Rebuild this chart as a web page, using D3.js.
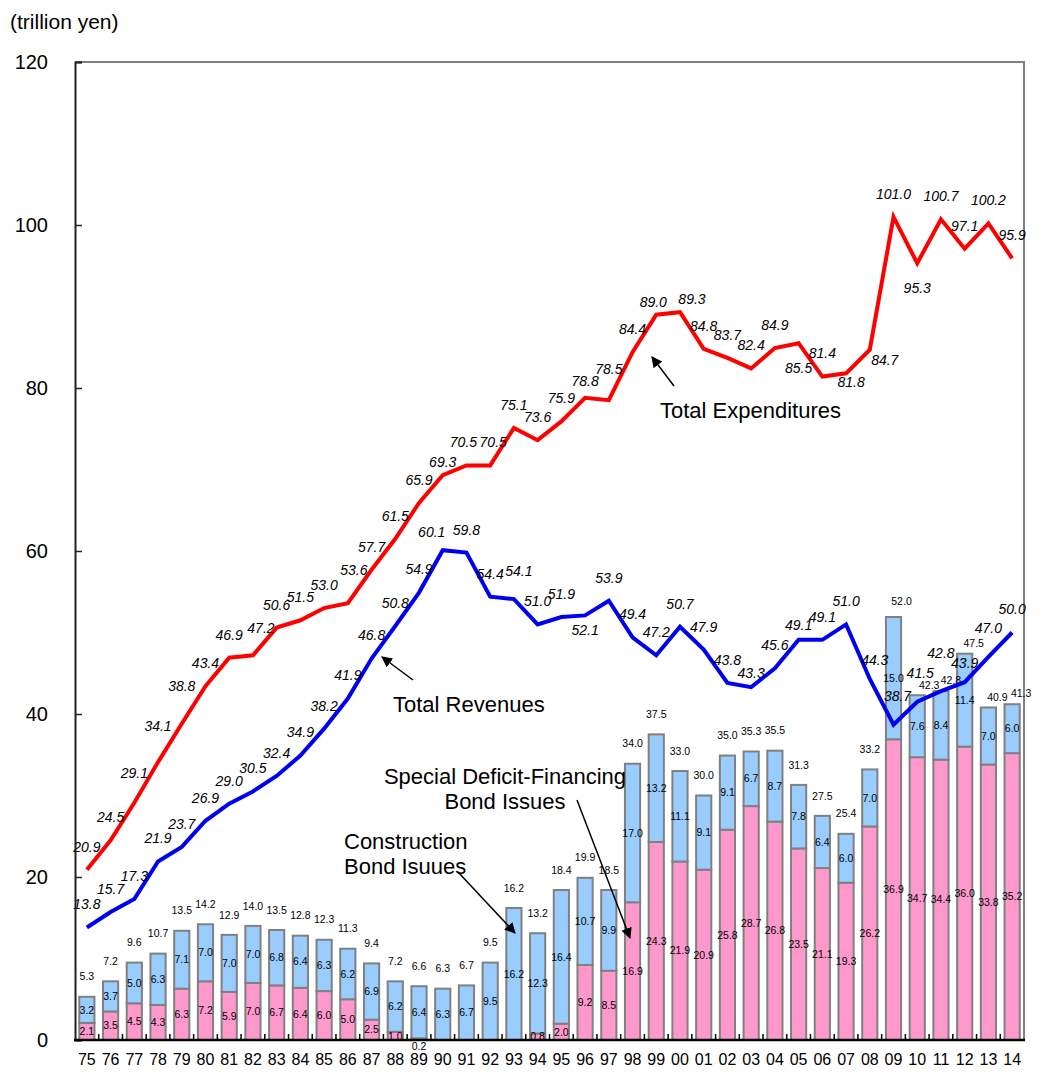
<!DOCTYPE html>
<html>
<head>
<meta charset="utf-8">
<script src="https://cdn.jsdelivr.net/npm/d3@7"></script>
<style>
  html, body { margin: 0; padding: 0; background: #fff; }
  svg { display: block; font-family: "Liberation Sans", Arial, sans-serif; }
</style>
</head>
<body>
<svg id="chart" width="1046" height="1075"></svg>
<script>
// ---------------- data ----------------
const years = ["75","76","77","78","79","80","81","82","83","84","85","86","87","88","89","90","91","92","93","94",
               "95","96","97","98","99","00","01","02","03","04","05","06","07","08","09","10","11","12","13","14"];
const expenditures = [20.9,24.5,29.1,34.1,38.8,43.4,46.9,47.2,50.6,51.5,53.0,53.6,57.7,61.5,65.9,69.3,70.5,70.5,75.1,73.6,
                      75.9,78.8,78.5,84.4,89.0,89.3,84.8,83.7,82.4,84.9,85.5,81.4,81.8,84.7,101.0,95.3,100.7,97.1,100.2,95.9];
const revenues = [13.8,15.7,17.3,21.9,23.7,26.9,29.0,30.5,32.4,34.9,38.2,41.9,46.8,50.8,54.9,60.1,59.8,54.4,54.1,51.0,
                  51.9,52.1,53.9,49.4,47.2,50.7,47.9,43.8,43.3,45.6,49.1,49.1,51.0,44.3,38.7,41.5,42.8,43.9,47.0,50.0];
const deficitBonds = [2.1,3.5,4.5,4.3,6.3,7.2,5.9,7.0,6.7,6.4,6.0,5.0,2.5,1.0,0.2,0,0,0,0,0.8,
                      2.0,9.2,8.5,16.9,24.3,21.9,20.9,25.8,28.7,26.8,23.5,21.1,19.3,26.2,36.9,34.7,34.4,36.0,33.8,35.2];
const constructionBonds = [3.2,3.7,5.0,6.3,7.1,7.0,7.0,7.0,6.8,6.4,6.3,6.2,6.9,6.2,6.4,6.3,6.7,9.5,16.2,12.3,
                           16.4,10.7,9.9,17.0,13.2,11.1,9.1,9.1,6.7,8.7,7.8,6.4,6.0,7.0,15.0,7.6,8.4,11.4,7.0,6.0];
const bondTotals = [5.3,7.2,9.6,10.7,13.5,14.2,12.9,14.0,13.5,12.8,12.3,11.3,9.4,7.2,6.6,6.3,6.7,9.5,16.2,13.2,
                    18.4,19.9,18.5,34.0,37.5,33.0,30.0,35.0,35.3,35.5,31.3,27.5,25.4,33.2,52.0,42.3,42.8,47.5,40.9,41.3];
const yTicks = [0,20,40,60,80,100,120];

// ---------------- label placement tweaks (layout only) ----------------
const expLabelShift = {"77":[0,-30],"78":[0,-36],"79":[0,-38],"82":[8,-27],"86":[6,-33],"90":[0,-13],"91":[-3,-23],
  "92":[3,-23],"96":[0,-17],"97":[0,-31],"99":[-3,-13],"00":[12,-13],"05":[0,25],"07":[5,9],"08":[15,10],"10":[0,25]};
const revLabelShift = {"90":[-11,-18],"93":[5,-28],"96":[0,15],"03":[0,-14],"05":[0,-15],"08":[5,-19],"09":[4,-28],
  "10":[3,-29],"11":[0,-38],"12":[0,-19],"13":[0,-29]};
const totalLabelShift = {"09":[8,-16],"10":[12,-10],"11":[10,-11],"12":[9,-10],"13":[9,-10],"14":[9,-11]};

// ---------------- layout ----------------
const svg = d3.select("#chart");
const pLeft = 75, pRight = 1024, pTop = 62, pBottom = 1040;

const x = d3.scaleBand().domain(years).range([pLeft, pRight]).paddingInner(0.36).paddingOuter(0.18);
const y = d3.scaleLinear().domain([0, 120]).range([pBottom, pTop]);
const cx = d => x(d) + x.bandwidth() / 2;

// frame (top & right gray)
svg.append("path")
  .attr("d", `M${pLeft},${pTop}H${pRight}V${pBottom}`)
  .attr("fill", "none").attr("stroke", "#808080").attr("stroke-width", 2);

// bars
const rows = years.map((yr, i) => ({yr, def: deficitBonds[i], con: constructionBonds[i], tot: bondTotals[i]}));
const bars = svg.append("g");
bars.selectAll("rect.def").data(rows.filter(r => r.def > 0)).join("rect")
  .attr("x", r => x(r.yr)).attr("width", x.bandwidth())
  .attr("y", r => y(r.def)).attr("height", r => y(0) - y(r.def))
  .attr("fill", "#FF99CC").attr("stroke", "#808080").attr("stroke-width", 2);
bars.selectAll("rect.con").data(rows).join("rect")
  .attr("x", r => x(r.yr)).attr("width", x.bandwidth())
  .attr("y", r => y(r.def + r.con)).attr("height", r => y(r.def) - y(r.def + r.con))
  .attr("fill", "#99CCFF").attr("stroke", "#808080").attr("stroke-width", 2);

// bar labels
const bl = svg.append("g").attr("font-size", "10.5px").attr("fill", "#000").attr("text-anchor", "middle");
bl.selectAll("text.c").data(rows).join("text")
  .attr("x", r => cx(r.yr)).attr("y", r => y(r.def + r.con / 2)).attr("dy", "0.35em")
  .text(r => r.con.toFixed(1));
bl.selectAll("text.d").data(rows.filter(r => r.def > 0)).join("text")
  .attr("x", r => cx(r.yr))
  .attr("y", r => r.def < 0.5 ? pBottom + 6 : y(r.def / 2)).attr("dy", "0.35em")
  .text(r => r.def.toFixed(1));
bl.selectAll("text.t").data(rows).join("text")
  .attr("x", r => cx(r.yr) + (totalLabelShift[r.yr] || [0, -20])[0])
  .attr("y", r => y(r.def + r.con) + (totalLabelShift[r.yr] || [0, -20])[1]).attr("dy", "0.35em")
  .text(r => r.tot.toFixed(1));

// lines
const line = d3.line().x(d => cx(d.yr)).y(d => y(d.v));
const expData = years.map((yr, i) => ({yr, v: expenditures[i]}));
const revData = years.map((yr, i) => ({yr, v: revenues[i]}));
svg.append("path").datum(expData).attr("d", line)
  .attr("fill", "none").attr("stroke", "#FF0000").attr("stroke-width", 4).attr("stroke-linejoin", "miter");
svg.append("path").datum(revData).attr("d", line)
  .attr("fill", "none").attr("stroke", "#0000F0").attr("stroke-width", 4).attr("stroke-linejoin", "miter");

function lineLabels(data, shifts) {
  svg.append("g").attr("font-size", "14px").attr("font-style", "italic").attr("text-anchor", "middle")
    .selectAll("text").data(data).join("text")
    .attr("x", d => cx(d.yr) + (shifts[d.yr] || [0, -23])[0])
    .attr("y", d => y(d.v) + (shifts[d.yr] || [0, -23])[1]).attr("dy", "0.35em")
    .text(d => d.v.toFixed(1));
}
lineLabels(expData, expLabelShift);
lineLabels(revData, revLabelShift);

// axes
const yAxis = d3.axisLeft(y).tickValues(yTicks).tickSize(-7).tickPadding(27).tickFormat(d3.format("d"));
const gy = svg.append("g").attr("transform", `translate(${pLeft},0)`).call(yAxis);
gy.select(".domain").attr("stroke", "#222").attr("stroke-width", 2);
gy.selectAll(".tick line").attr("stroke", "#222").attr("stroke-width", 1.5);
gy.selectAll(".tick text").attr("font-size", "20px").attr("fill", "#000")
  .attr("font-family", "'Liberation Sans', Arial, sans-serif");

const xAxis = d3.axisBottom(x).tickSize(0).tickPadding(14);
const gx = svg.append("g").attr("transform", `translate(0,${pBottom})`).call(xAxis);
gx.select(".domain").attr("stroke", "#000").attr("stroke-width", 2.5).attr("d", `M${pLeft - 1},0H${pRight + 1}`);
gx.selectAll(".tick text").attr("font-size", "16px").attr("fill", "#000")
  .attr("font-family", "'Liberation Sans', Arial, sans-serif");
// category separators (inward ticks)
svg.append("g").selectAll("line").data(years.slice(1)).join("line")
  .attr("x1", d => x(d) - x.step() * x.paddingInner() / 2).attr("x2", d => x(d) - x.step() * x.paddingInner() / 2)
  .attr("y1", pBottom).attr("y2", pBottom - 6).attr("stroke", "#000").attr("stroke-width", 1.5);

// unit label
svg.append("text").attr("x", 10).attr("y", 29).attr("font-size", "21px").text("(trillion yen)");

// annotations
const defs = svg.append("defs");
defs.append("marker").attr("id", "arr").attr("viewBox", "0 0 10 10").attr("refX", 9).attr("refY", 5)
  .attr("markerWidth", 11).attr("markerHeight", 11).attr("markerUnits", "userSpaceOnUse").attr("orient", "auto")
  .append("path").attr("d", "M0,0L10,5L0,10Z").attr("fill", "#000");

const ann = svg.append("g").attr("font-size", "22px").attr("fill", "#000");
ann.append("text").attr("x", 660).attr("y", 418).text("Total Expenditures");
ann.append("text").attr("x", 393).attr("y", 712).text("Total Revenues");
ann.append("text").attr("x", 505).attr("y", 784).attr("text-anchor", "middle").text("Special Deficit-Financing");
ann.append("text").attr("x", 505).attr("y", 809).attr("text-anchor", "middle").text("Bond Issues");
ann.append("text").attr("x", 344).attr("y", 849).text("Construction");
ann.append("text").attr("x", 344).attr("y", 874).text("Bond Isuues");

const arrows = [
  [674, 386, 652, 357],
  [413, 680, 382, 657],
  [577, 800, 630, 938],
  [458, 872, 515, 933]
];
svg.append("g").selectAll("line").data(arrows).join("line")
  .attr("x1", d => d[0]).attr("y1", d => d[1]).attr("x2", d => d[2]).attr("y2", d => d[3])
  .attr("stroke", "#000").attr("stroke-width", 1.5).attr("marker-end", "url(#arr)");
</script>
</body>
</html>
